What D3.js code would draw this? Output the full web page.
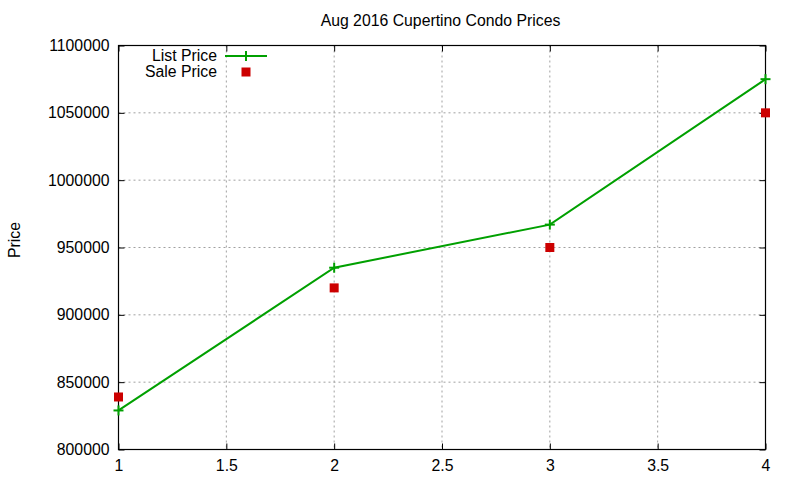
<!DOCTYPE html>
<html><head><meta charset="utf-8">
<script src="https://cdn.jsdelivr.net/npm/d3@7"></script>
<style>body{margin:0;background:#fff}svg{display:block;font-family:"Liberation Sans",Arial,sans-serif}</style>
</head><body><svg id="c" width="800" height="480"></svg>
<script>
const xs = [1, 2, 3, 4];
const listPrice = [829000, 935000, 967000, 1075000];
const salePrice = [839000, 920000, 950000, 1050000];
const xTicks = [1, 1.5, 2, 2.5, 3, 3.5, 4];
const yTicks = [800000, 850000, 900000, 950000, 1000000, 1050000, 1100000];
const title = "Aug 2016 Cupertino Condo Prices";

const FS = 15.8;
const svg = d3.select("#c");
const L = 118.5, R = 765.5, T = 45.5, B = 449.5;
const x = d3.scaleLinear().domain([1, 4]).range([L, R]);
const y = d3.scaleLinear().domain([800000, 1100000]).range([B, T]);

// grid
const g = svg.append("g");
g.selectAll(".gx").data(xTicks.slice(1, -1)).join("line")
  .attr("x1", d => x(d)).attr("x2", d => x(d)).attr("y1", T).attr("y2", B)
  .attr("stroke", "#a0a0a0").attr("stroke-dasharray", "2,3").attr("stroke-width", 1);
g.selectAll(".gy").data(yTicks.slice(1, -1)).join("line")
  .attr("y1", d => y(d)).attr("y2", d => y(d)).attr("x1", L).attr("x2", R)
  .attr("stroke", "#a0a0a0").attr("stroke-dasharray", "2,3").attr("stroke-width", 1);

// axes
const xAxis = d3.axisBottom(x).tickValues(xTicks).tickSize(-6).tickPadding(10).tickFormat(d3.format("~g"));
const yAxis = d3.axisLeft(y).tickValues(yTicks).tickSize(-6).tickPadding(9).tickFormat(d3.format("d"));
const xa = svg.append("g").attr("transform", `translate(0,${B})`).call(xAxis);
const ya = svg.append("g").attr("transform", `translate(${L},0)`).call(yAxis);
[xa, ya].forEach(a => {
  a.select(".domain").remove();
  a.selectAll("text").attr("font-size", FS).attr("fill", "#000").attr("font-family", "Liberation Sans, Arial, sans-serif");
  a.selectAll("line").attr("stroke", "#000");
});
// top mirror ticks
svg.append("g").attr("transform", `translate(0,${T})`).call(d3.axisTop(x).tickValues(xTicks).tickSize(-6).tickFormat(""))
  .call(a => { a.select(".domain").remove(); a.selectAll("line").attr("stroke", "#000"); });
svg.append("g").attr("transform", `translate(${R},0)`).call(d3.axisRight(y).tickValues(yTicks).tickSize(-6).tickFormat(""))
  .call(a => { a.select(".domain").remove(); a.selectAll("line").attr("stroke", "#000"); });

// frame
svg.append("rect").attr("x", L).attr("y", T).attr("width", R - L).attr("height", B - T)
  .attr("fill", "none").attr("stroke", "#000").attr("stroke-width", 1.2);

// list line
const green = "#00a000", red = "#cc0000";
const line = d3.line().x((d, i) => x(xs[i])).y(d => y(d));
svg.append("path").datum(listPrice).attr("d", line).attr("fill", "none")
  .attr("stroke", green).attr("stroke-width", 2);
const plus = (sel, cx, cy) => {
  sel.append("line").attr("x1", cx - 5).attr("x2", cx + 5).attr("y1", cy).attr("y2", cy).attr("stroke", green).attr("stroke-width", 2);
  sel.append("line").attr("x1", cx).attr("x2", cx).attr("y1", cy - 5).attr("y2", cy + 5).attr("stroke", green).attr("stroke-width", 2);
};
listPrice.forEach((v, i) => plus(svg, x(xs[i]), y(v)));

// sale points
svg.selectAll(".sale").data(salePrice).join("rect")
  .attr("x", (d, i) => x(xs[i]) - 4.5).attr("y", d => y(d) - 4.5)
  .attr("width", 9).attr("height", 9).attr("fill", red);

// title & labels
svg.append("text").attr("x", 440.5).attr("y", 26).attr("text-anchor", "middle")
  .attr("font-size", FS).text(title);
svg.append("text").attr("transform", "translate(19.5,240) rotate(-90)").attr("text-anchor", "middle")
  .attr("font-size", FS).text("Price");

// legend
svg.append("text").attr("x", 217).attr("y", 61).attr("text-anchor", "end").attr("font-size", FS).text("List Price");
svg.append("line").attr("x1", 225).attr("x2", 267).attr("y1", 56).attr("y2", 56).attr("stroke", green).attr("stroke-width", 2);
plus(svg, 246, 56);
svg.append("text").attr("x", 217).attr("y", 77).attr("text-anchor", "end").attr("font-size", FS).text("Sale Price");
svg.append("rect").attr("x", 241.5).attr("y", 67.5).attr("width", 9).attr("height", 9).attr("fill", red);
</script></body></html>
